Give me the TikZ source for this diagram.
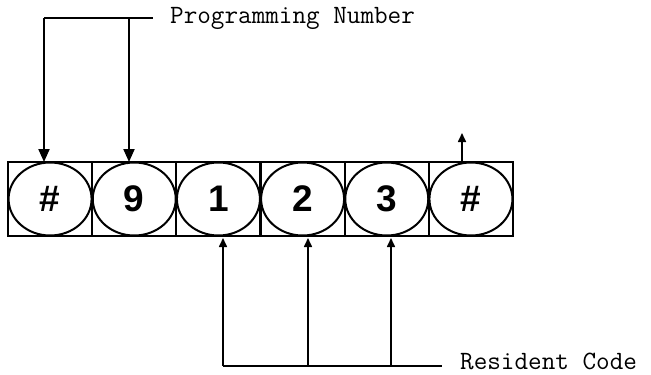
\documentclass[tikz,border=0pt]{standalone}
\usepackage{fontspec}
\usetikzlibrary{shapes.geometric,arrows.meta}
\newfontfamily\digf{Liberation Sans}
\begin{document}
\begin{tikzpicture}[x=1pt,y=-1pt,
  cell/.style={draw,line width=2.2pt,minimum width=84.17pt,minimum height=74pt,inner sep=0pt,outer sep=0pt},
  oval/.style={ellipse,draw,line width=2pt,minimum width=83pt,minimum height=73pt,inner sep=0pt,font=\digf\bfseries\fontsize{37}{37}\selectfont},
  lbl/.style={anchor=west,inner sep=0pt,font=\ttfamily\fontsize{26.4}{26.4}\selectfont},
  lead/.style={line width=2pt},
  darr/.style={line width=2pt,-{Triangle[width=11pt,length=13pt]}},
  uarr/.style={line width=1.6pt,-{Triangle[width=8pt,length=9pt]}}]
\useasboundingbox (0,0) rectangle (651,375);
\foreach \i/\t in {1/\#,2/9,3/1,4/2,5/3,6/\#}{
  \node[cell] (c\i) at ({8+84.17*(\i-0.5)},199) {};
  \node[oval] (o\i) at (c\i) {\t};
}
% programming number
\coordinate (p1) at (44,18);
\coordinate (p2) at (129,18);
\coordinate (pe) at (153,18);
\draw[lead] (p1) -- (pe);
\draw[darr] (p1) -- (p1 |- c1.north);
\draw[darr] (p2) -- (p2 |- c2.north);
\node[lbl] (pn) at (170,18) {Programming Number};
% end mark
\coordinate (h) at (462,133);
\draw[uarr] (h |- c6.north) -- (h);
% resident code
\coordinate (r1) at (223,366);
\coordinate (r2) at (308,366);
\coordinate (r3) at (391,366);
\coordinate (re) at (442,366);
\draw[lead] (r1) -- (re);
\draw[uarr] (r1) -- ([yshift=-2pt]r1 |- c3.south);
\draw[uarr] (r2) -- ([yshift=-2pt]r2 |- c4.south);
\draw[uarr] (r3) -- ([yshift=-2pt]r3 |- c5.south);
\node[lbl] (rc) at (460,361) {Resident Code};
\end{tikzpicture}
\end{document}
